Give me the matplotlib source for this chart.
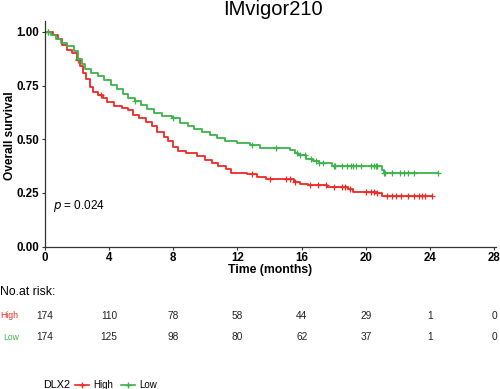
import numpy as np
import matplotlib
matplotlib.use('Agg')
import matplotlib.pyplot as plt
from matplotlib.lines import Line2D
from matplotlib.transforms import blended_transform_factory

plt.rcParams['font.family'] = ['Liberation Sans', 'DejaVu Sans']

# Kaplan-Meier steps (time in months, survival)
high_t = [0, 0.5, 0.8, 1.1, 1.4, 1.7, 2.0, 2.2, 2.4, 2.6, 2.8, 3.0, 3.3, 3.6, 3.9,
          4.3, 4.8, 5.2, 5.5, 5.9, 6.3, 6.7, 7.0, 7.4, 7.7, 8.0, 8.3, 8.8, 9.5,
          10.0, 10.4, 10.8, 11.3, 11.6, 12.6, 13.2, 13.8, 15.5, 15.9, 16.4, 17.6,
          18.9, 19.2, 20.7, 21.0, 24.13]
high_s = [1.0, 0.985, 0.965, 0.94, 0.915, 0.90, 0.87, 0.84, 0.81, 0.78, 0.745, 0.72,
          0.705, 0.69, 0.672, 0.657, 0.647, 0.638, 0.614, 0.598, 0.582, 0.56, 0.535,
          0.51, 0.49, 0.465, 0.445, 0.435, 0.42, 0.405, 0.39, 0.375, 0.36, 0.345,
          0.338, 0.325, 0.315, 0.302, 0.292, 0.286, 0.279, 0.267, 0.256, 0.248,
          0.236, 0.236]

low_t = [0, 0.4, 0.7, 1.0, 1.4, 1.8, 2.1, 2.3, 2.5, 2.9, 3.3, 3.7, 4.1, 4.5, 4.9,
         5.2, 5.6, 6.0, 6.4, 6.8, 7.3, 7.9, 8.4, 8.9, 9.3, 9.8, 10.3, 10.7, 11.2,
         12.0, 12.8, 13.4, 15.3, 15.6, 15.8, 16.3, 16.7, 17.1, 17.9, 21.0, 21.1, 24.5]
low_s = [1.0, 0.985, 0.965, 0.95, 0.935, 0.91, 0.875, 0.85, 0.825, 0.81, 0.795,
         0.775, 0.755, 0.735, 0.71, 0.69, 0.676, 0.66, 0.64, 0.622, 0.61, 0.60,
         0.578, 0.562, 0.55, 0.535, 0.52, 0.505, 0.49, 0.482, 0.473, 0.458, 0.45,
         0.435, 0.425, 0.41, 0.40, 0.39, 0.375, 0.355, 0.341, 0.341]

# censored observations
high_cens = [0.2, 2.1, 3.5, 12.9, 14.0, 15.0, 15.3, 15.6, 16.5, 17.0, 17.5, 18.0,
             18.5, 18.7, 19.0, 20.0, 20.3, 20.5, 20.7, 21.3, 21.6, 21.9, 22.2,
             22.6, 23.0, 23.3, 23.5, 23.7, 24.1]
low_cens = [0.2, 2.1, 5.6, 8.0, 12.9, 14.4, 15.7, 15.9, 16.2, 16.6, 16.9, 17.1,
            17.3, 18.0, 18.1, 18.5, 18.8, 19.1, 19.2, 19.4, 19.7, 20.3, 20.5,
            20.6, 20.7, 21.1, 21.2, 21.6, 22.1, 22.4, 22.6, 23.0, 24.5]

risk_times = [0, 4, 8, 12, 16, 20, 24, 28]
risk_high = [174, 110, 78, 58, 44, 29, 1, 0]
risk_low = [174, 125, 98, 80, 62, 37, 1, 0]

groups = ['High', 'Low']
colors = {'High': '#EE2A24', 'Low': '#3CB34A'}
curves = {'High': (high_t, high_s, high_cens), 'Low': (low_t, low_s, low_cens)}
risk = {'High': risk_high, 'Low': risk_low}

H = 389.0
fig = plt.figure(figsize=(5, 3.89), dpi=100)
ax = fig.add_axes([0.0894, 0.3658, 0.9026, 0.581])

for g in groups:
    t, s, cens = curves[g]
    ax.step(t, s, where='post', color=colors[g], lw=1.3)
    idx = np.searchsorted(t, cens, side='right') - 1
    ax.plot(cens, np.array(s)[idx], '+', color=colors[g], ms=5, mew=0.9)

ax.set_xlim(0, 28.1)
ax.set_ylim(0, 1.052)
ax.set_xticks(risk_times)
ax.set_yticks([0, 0.25, 0.5, 0.75, 1.0])
ax.set_yticklabels(['0.00', '0.25', '0.50', '0.75', '1.00'])
for lab in ax.get_xticklabels() + ax.get_yticklabels():
    lab.set_fontweight('bold')
    lab.set_fontsize(8.3)
ax.tick_params(length=2.5, width=0.8, color='#333333', pad=1.5)
for sp in ['top', 'right']:
    ax.spines[sp].set_visible(False)
for sp in ['left', 'bottom']:
    ax.spines[sp].set_color('#333333')
    ax.spines[sp].set_linewidth(0.9)
ax.set_xlabel('Time (months)', fontsize=8.8, fontweight='bold', labelpad=0)
ax.set_ylabel('Overall survival', fontsize=8.6, fontweight='bold')
ax.yaxis.set_label_coords(-0.064, 0.49)
ax.text(0.5, 0.19, r'$p$ = 0.024', fontsize=8.5, va='center')
fig.text(0.545, 1 - 15 / H, 'IMvigor210', fontsize=14.5, ha='center', va='baseline')

# risk table: x follows the survival axis, y in figure units
tr = blended_transform_factory(ax.transData, fig.transFigure)
row_y = {'High': 1 - 316 / H, 'Low': 1 - 337 / H}
for g in groups:
    for t, n in zip(risk_times, risk[g]):
        fig.text(t, row_y[g], str(n), fontsize=7.3, ha='center', va='center',
                 color='#222222', transform=tr)
fig.text(0.0, 1 - 292 / H, 'No.at risk:', fontsize=8.8, va='center')
fig.text(0.019, row_y['High'], 'High', fontsize=6.2, color=colors['High'],
         ha='center', va='center')
fig.text(0.022, row_y['Low'], 'Low', fontsize=6.2, color=colors['Low'],
         ha='center', va='center')

# legend
fig.text(0.086, 1 - 385 / H, 'DLX2', fontsize=7.8, va='center')
handles = [Line2D([0], [0], color=colors[g], marker='+', lw=1.2, ms=5)
           for g in groups]
fig.legend(handles, groups, loc='center left', bbox_to_anchor=(0.15, 1 - 385 / H),
           ncol=2, frameon=False, fontsize=7, handlelength=1.4,
           handletextpad=0.5, columnspacing=0.8, borderaxespad=0, borderpad=0)

fig.savefig('out.png', dpi=100)
